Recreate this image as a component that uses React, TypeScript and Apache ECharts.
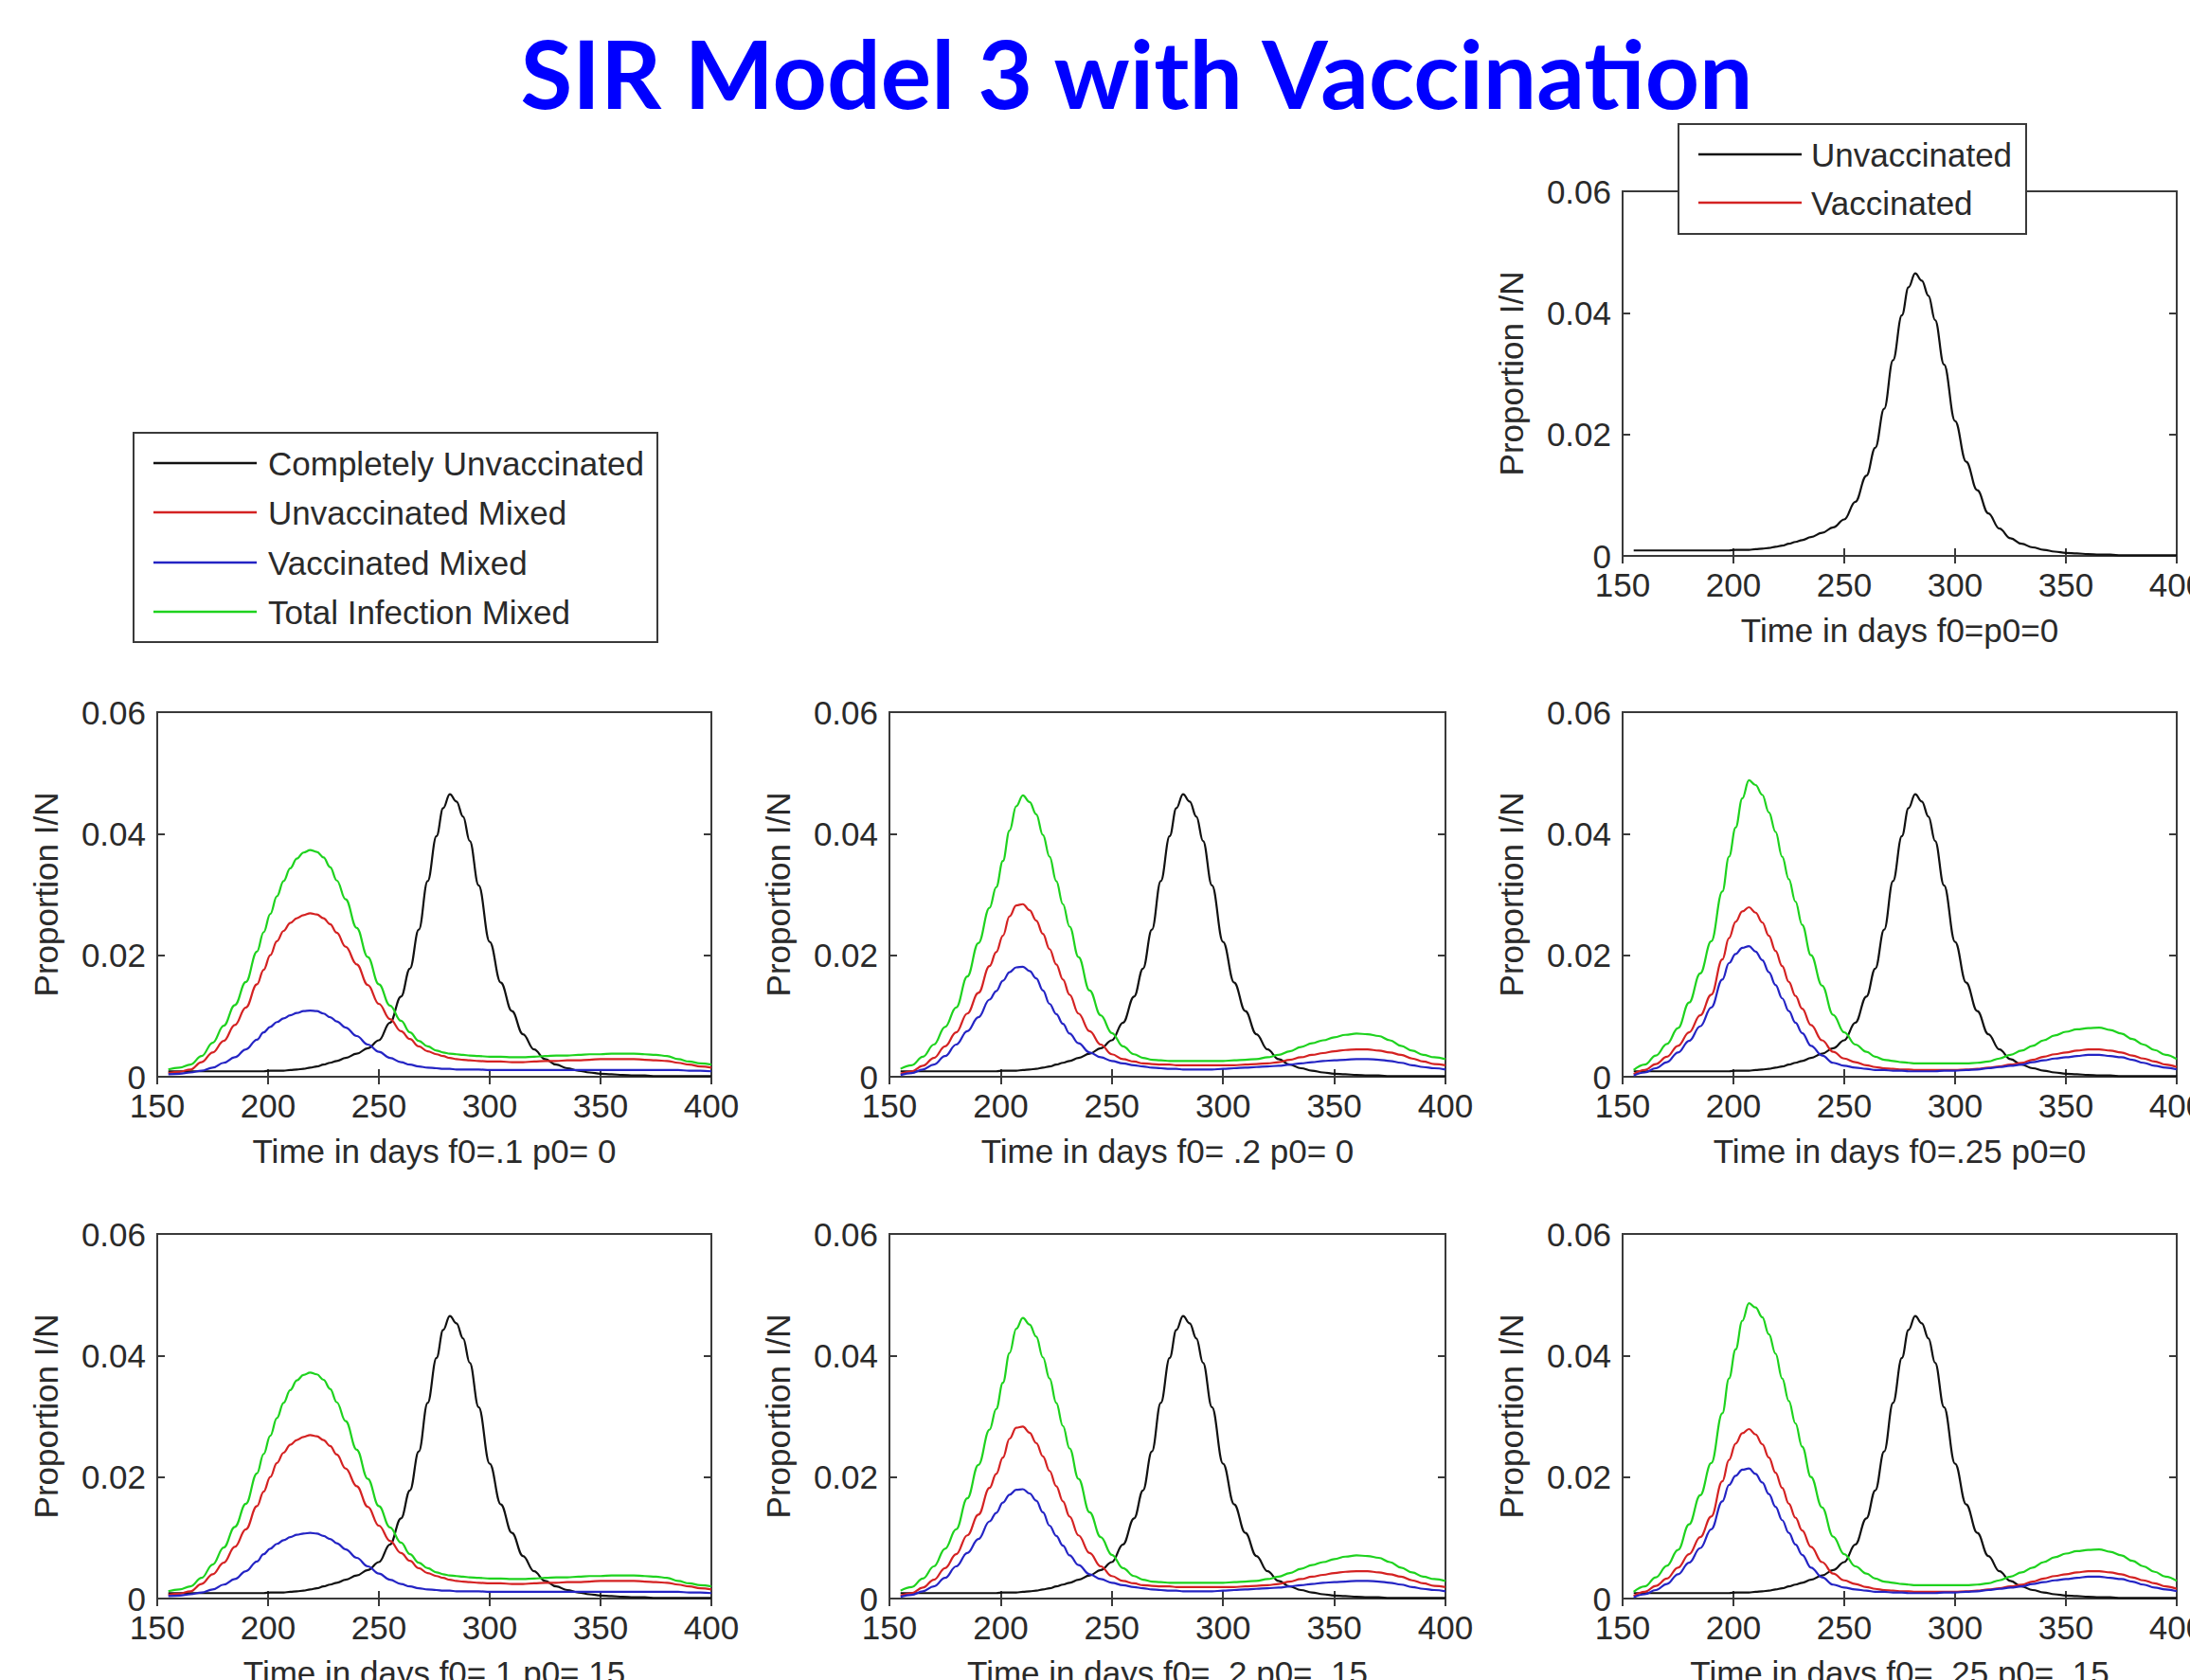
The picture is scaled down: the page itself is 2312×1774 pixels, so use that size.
import React, { useEffect, useRef } from "react";
import * as echarts from "echarts";

// ---------- data ----------
const days = [
  155, 160, 165, 170, 175, 180, 185, 190, 195,
  198, 201, 204, 207, 210, 213, 216, 219, 222, 225, 228, 231,
  235, 240, 245, 250, 255, 260,
  264, 268, 272, 276,
  279, 282, 285, 288, 291,
  295, 300, 305, 310, 315, 320, 325, 330, 335, 340, 345, 350, 355, 360, 365, 370, 375, 380, 385, 390, 395, 400,
];

const xTicks = [150, 200, 250, 300, 350, 400];
const yTicks = [0, 0.02, 0.04, 0.06];

// completely unvaccinated population (same in every panel)
const completelyUnvaccinated = [
  0.0009, 0.0009, 0.0009, 0.0009, 0.0009, 0.0009, 0.0009, 0.0009, 0.0009,
  0.0009, 0.001, 0.001, 0.001, 0.0011, 0.0012, 0.0013, 0.0015, 0.0017, 0.002, 0.0023, 0.0026,
  0.0031, 0.0038, 0.0047, 0.006, 0.0089, 0.0132,
  0.0178, 0.0242, 0.0322, 0.0396,
  0.0442, 0.0465, 0.0453, 0.0428, 0.0388,
  0.0315, 0.0222, 0.0155, 0.0108, 0.007, 0.0045, 0.0029, 0.002, 0.0014, 0.001, 0.0007, 0.0005, 0.0004, 0.0003, 0.0002, 0.0002, 0.0001, 0.0001, 0.0001, 0.0001, 0.0001, 0.0001,
];

// f0 = .1, p0 = 0
const unvaccMixed_f10_p0 = [
  0.0006, 0.0008, 0.0012, 0.0024, 0.004, 0.0059, 0.0085, 0.0114, 0.0152,
  0.0176, 0.02, 0.0223, 0.024, 0.0253, 0.0261, 0.0266, 0.0269, 0.0267, 0.0261, 0.0251, 0.0237,
  0.0214, 0.0185, 0.0151, 0.012, 0.0095, 0.0075,
  0.0062, 0.005, 0.0042, 0.0037,
  0.0034, 0.0031, 0.0029, 0.0028, 0.0027,
  0.0026, 0.0025, 0.0025, 0.0024, 0.0024, 0.0025, 0.0026, 0.0026, 0.0027, 0.0027, 0.0028, 0.0029, 0.0029, 0.0029, 0.0029, 0.0028, 0.0027, 0.0026, 0.0023, 0.002, 0.0017, 0.0015,
];
const vaccMixed_f10_p0 = [
  0.0004, 0.0005, 0.0007, 0.001, 0.0015, 0.0023, 0.0032, 0.0045, 0.0061,
  0.0073, 0.0082, 0.009, 0.0096, 0.0101, 0.0105, 0.0108, 0.0109, 0.0108, 0.0104, 0.0098, 0.0091,
  0.0081, 0.0067, 0.0053, 0.0041, 0.0031, 0.0024,
  0.002, 0.0017, 0.0015, 0.0014,
  0.0013, 0.0013, 0.0012, 0.0012, 0.0012,
  0.0012, 0.0011, 0.0011, 0.0011, 0.0011, 0.0011, 0.0011, 0.0011, 0.0011, 0.0011, 0.0011, 0.0011, 0.0011, 0.0011, 0.0011, 0.0011, 0.0011, 0.0011, 0.0011, 0.001, 0.001, 0.0009,
];
const totalMixed_f10_p0 = [
  0.0012, 0.0015, 0.002, 0.0034, 0.0056, 0.0084, 0.0118, 0.0156, 0.0206,
  0.0238, 0.0268, 0.0297, 0.0322, 0.0343, 0.0359, 0.0369, 0.0373, 0.037, 0.0361, 0.0345, 0.0323,
  0.0292, 0.0245, 0.0197, 0.0152, 0.0117, 0.0092,
  0.0073, 0.0059, 0.005, 0.0043,
  0.004, 0.0038, 0.0037, 0.0036, 0.0035,
  0.0034, 0.0033, 0.0033, 0.0032, 0.0032, 0.0033, 0.0034, 0.0035, 0.0035, 0.0036, 0.0037, 0.0037, 0.0038, 0.0038, 0.0038, 0.0037, 0.0036, 0.0034, 0.0029, 0.0025, 0.0022, 0.002,
];

// f0 = .2, p0 = 0
const unvaccMixed_f20_p0 = [
  0.0005, 0.0009, 0.0018, 0.0031, 0.005, 0.0073, 0.0104, 0.0138, 0.0182,
  0.0205, 0.0232, 0.0264, 0.0282, 0.0284, 0.0274, 0.0257, 0.0235, 0.021, 0.0185, 0.016, 0.0135,
  0.0104, 0.0075, 0.0053, 0.0037, 0.0029, 0.0025,
  0.0022, 0.0021, 0.002, 0.002,
  0.0019, 0.0019, 0.0019, 0.0019, 0.0019,
  0.0019, 0.0019, 0.0019, 0.002, 0.0021, 0.0022, 0.0024, 0.0028, 0.0032, 0.0036, 0.0039, 0.0042, 0.0044, 0.0045, 0.0045, 0.0043, 0.004, 0.0036, 0.003, 0.0025, 0.0021, 0.0019,
];
const vaccMixed_f20_p0 = [
  0.0003, 0.0006, 0.0012, 0.002, 0.0034, 0.0053, 0.0075, 0.0098, 0.0127,
  0.0141, 0.0158, 0.0172, 0.018, 0.0181, 0.0174, 0.0162, 0.0142, 0.012, 0.0103, 0.0087, 0.0071,
  0.0055, 0.004, 0.0032, 0.0026, 0.0022, 0.0019,
  0.0017, 0.0015, 0.0014, 0.0013,
  0.0013, 0.0012, 0.0012, 0.0012, 0.0012,
  0.0012, 0.0013, 0.0014, 0.0015, 0.0016, 0.0017, 0.0018, 0.002, 0.0022, 0.0024, 0.0026, 0.0027, 0.0028, 0.0029, 0.0029, 0.0028, 0.0026, 0.0023, 0.0019, 0.0016, 0.0014, 0.0012,
];
const totalMixed_f20_p0 = [
  0.0013, 0.0019, 0.0033, 0.0053, 0.0082, 0.0114, 0.0165, 0.022, 0.0278,
  0.0312, 0.0355, 0.0405, 0.0445, 0.0463, 0.0452, 0.0432, 0.0398, 0.0362, 0.0322, 0.0284, 0.0247,
  0.0197, 0.0142, 0.0101, 0.0072, 0.005, 0.0037,
  0.0031, 0.0028, 0.0027, 0.0026,
  0.0026, 0.0026, 0.0026, 0.0026, 0.0026,
  0.0026, 0.0026, 0.0027, 0.0028, 0.0029, 0.0032, 0.0036, 0.0042, 0.0049, 0.0055, 0.006, 0.0065, 0.0069, 0.0071, 0.007, 0.0067, 0.006, 0.0051, 0.0043, 0.0036, 0.0032, 0.0029,
];

// f0 = .25, p0 = 0
const unvaccMixed_f25_p0 = [
  0.0004, 0.0011, 0.0021, 0.0033, 0.0051, 0.0073, 0.0101, 0.0135, 0.0193,
  0.0228, 0.0255, 0.0272, 0.0279, 0.027, 0.0254, 0.0232, 0.0207, 0.0182, 0.0156, 0.0133, 0.0112,
  0.0085, 0.006, 0.0041, 0.003, 0.0024, 0.0019,
  0.0016, 0.0014, 0.0013, 0.0012,
  0.0012, 0.0011, 0.0011, 0.0011, 0.0011,
  0.0011, 0.0011, 0.0012, 0.0013, 0.0015, 0.0017, 0.002, 0.0023, 0.0028, 0.0033, 0.0037, 0.004, 0.0043, 0.0045, 0.0045, 0.0043, 0.004, 0.0035, 0.003, 0.0025, 0.002, 0.0016,
];
const vaccMixed_f25_p0 = [
  0.0002, 0.0007, 0.0014, 0.0024, 0.004, 0.0059, 0.0083, 0.0114, 0.016,
  0.0187, 0.0202, 0.0212, 0.0215, 0.0206, 0.0192, 0.0172, 0.0151, 0.0129, 0.0108, 0.0089, 0.0072,
  0.0051, 0.0035, 0.0023, 0.0018, 0.0015, 0.0013,
  0.0011, 0.0011, 0.001, 0.001,
  0.0009, 0.0009, 0.0009, 0.0009, 0.0009,
  0.001, 0.001, 0.0011, 0.0012, 0.0014, 0.0016, 0.0018, 0.002, 0.0024, 0.0027, 0.003, 0.0032, 0.0034, 0.0036, 0.0036, 0.0034, 0.0032, 0.0028, 0.0023, 0.0018, 0.0015, 0.0012,
];
const totalMixed_f25_p0 = [
  0.0011, 0.002, 0.0035, 0.0054, 0.008, 0.0122, 0.017, 0.0223, 0.0305,
  0.0362, 0.041, 0.0458, 0.0488, 0.048, 0.0464, 0.0435, 0.0403, 0.0362, 0.0325, 0.0288, 0.025,
  0.02, 0.015, 0.0102, 0.0073, 0.0053, 0.0041,
  0.0033, 0.0028, 0.0026, 0.0024,
  0.0023, 0.0022, 0.0022, 0.0022, 0.0022,
  0.0022, 0.0022, 0.0022, 0.0023, 0.0025, 0.003, 0.0036, 0.0043, 0.0051, 0.006, 0.0068, 0.0074, 0.0078, 0.008, 0.0081, 0.0077, 0.0071, 0.0062, 0.0053, 0.0044, 0.0036, 0.0029,
];

// f0 = .1, p0 = .15
const unvaccMixed_f10_p15 = [
  0.0006, 0.0008, 0.0012, 0.0024, 0.004, 0.0059, 0.0085, 0.0114, 0.0152,
  0.0176, 0.02, 0.0223, 0.024, 0.0253, 0.0261, 0.0266, 0.0269, 0.0267, 0.0261, 0.0251, 0.0237,
  0.0214, 0.0185, 0.0151, 0.012, 0.0095, 0.0075,
  0.0062, 0.005, 0.0042, 0.0037,
  0.0034, 0.0031, 0.0029, 0.0028, 0.0027,
  0.0026, 0.0025, 0.0025, 0.0024, 0.0024, 0.0025, 0.0026, 0.0026, 0.0027, 0.0027, 0.0028, 0.0029, 0.0029, 0.0029, 0.0029, 0.0028, 0.0027, 0.0026, 0.0023, 0.002, 0.0017, 0.0015,
];
const vaccMixed_f10_p15 = [
  0.0004, 0.0005, 0.0007, 0.001, 0.0015, 0.0023, 0.0032, 0.0045, 0.0061,
  0.0073, 0.0082, 0.009, 0.0096, 0.0101, 0.0105, 0.0107, 0.0108, 0.0107, 0.0103, 0.0098, 0.0091,
  0.0081, 0.0067, 0.0053, 0.0041, 0.0031, 0.0024,
  0.002, 0.0017, 0.0015, 0.0014,
  0.0013, 0.0013, 0.0012, 0.0012, 0.0012,
  0.0012, 0.0011, 0.0011, 0.0011, 0.0011, 0.0011, 0.0011, 0.0011, 0.0011, 0.0011, 0.0011, 0.0011, 0.0011, 0.0011, 0.0011, 0.0011, 0.0011, 0.0011, 0.0011, 0.001, 0.001, 0.0009,
];
const totalMixed_f10_p15 = [
  0.0012, 0.0015, 0.002, 0.0034, 0.0056, 0.0084, 0.0118, 0.0156, 0.0206,
  0.0238, 0.0268, 0.0297, 0.0322, 0.0343, 0.0359, 0.0368, 0.0372, 0.0369, 0.036, 0.0345, 0.0323,
  0.0292, 0.0245, 0.0197, 0.0152, 0.0117, 0.0092,
  0.0073, 0.0059, 0.005, 0.0043,
  0.004, 0.0038, 0.0037, 0.0036, 0.0035,
  0.0034, 0.0033, 0.0033, 0.0032, 0.0032, 0.0033, 0.0034, 0.0035, 0.0035, 0.0036, 0.0037, 0.0037, 0.0038, 0.0038, 0.0038, 0.0037, 0.0036, 0.0034, 0.0029, 0.0025, 0.0022, 0.002,
];

// f0 = .2, p0 = .15
const unvaccMixed_f20_p15 = [
  0.0005, 0.0009, 0.0018, 0.0031, 0.005, 0.0073, 0.0104, 0.0138, 0.0182,
  0.0205, 0.0232, 0.0263, 0.0281, 0.0283, 0.0273, 0.0256, 0.0234, 0.021, 0.0185, 0.016, 0.0135,
  0.0104, 0.0075, 0.0053, 0.0037, 0.0029, 0.0025,
  0.0022, 0.0021, 0.002, 0.002,
  0.0019, 0.0019, 0.0019, 0.0019, 0.0019,
  0.0019, 0.0019, 0.0019, 0.002, 0.0021, 0.0022, 0.0024, 0.0028, 0.0032, 0.0036, 0.0039, 0.0042, 0.0044, 0.0045, 0.0045, 0.0043, 0.004, 0.0036, 0.003, 0.0025, 0.0021, 0.0019,
];
const vaccMixed_f20_p15 = [
  0.0003, 0.0006, 0.0012, 0.002, 0.0034, 0.0053, 0.0075, 0.0098, 0.0127,
  0.0141, 0.0158, 0.0171, 0.0179, 0.018, 0.0173, 0.0161, 0.0142, 0.012, 0.0103, 0.0087, 0.0071,
  0.0055, 0.004, 0.0032, 0.0026, 0.0022, 0.0019,
  0.0017, 0.0015, 0.0014, 0.0013,
  0.0013, 0.0012, 0.0012, 0.0012, 0.0012,
  0.0012, 0.0013, 0.0014, 0.0015, 0.0016, 0.0017, 0.0018, 0.002, 0.0022, 0.0024, 0.0026, 0.0027, 0.0028, 0.0029, 0.0029, 0.0028, 0.0026, 0.0023, 0.0019, 0.0016, 0.0014, 0.0012,
];
const totalMixed_f20_p15 = [
  0.0013, 0.0019, 0.0033, 0.0053, 0.0082, 0.0114, 0.0165, 0.022, 0.0278,
  0.0312, 0.0355, 0.0404, 0.0444, 0.0462, 0.0451, 0.0431, 0.0397, 0.0362, 0.0322, 0.0284, 0.0247,
  0.0197, 0.0142, 0.0101, 0.0072, 0.005, 0.0037,
  0.0031, 0.0028, 0.0027, 0.0026,
  0.0026, 0.0026, 0.0026, 0.0026, 0.0026,
  0.0026, 0.0026, 0.0027, 0.0028, 0.0029, 0.0032, 0.0036, 0.0042, 0.0049, 0.0055, 0.006, 0.0065, 0.0069, 0.0071, 0.007, 0.0067, 0.006, 0.0051, 0.0043, 0.0036, 0.0032, 0.0029,
];

// f0 = .25, p0 = .15
const unvaccMixed_f25_p15 = [
  0.0004, 0.0011, 0.0021, 0.0033, 0.0051, 0.0073, 0.0101, 0.0135, 0.0193,
  0.0228, 0.0255, 0.0272, 0.0279, 0.027, 0.0254, 0.0232, 0.0207, 0.0182, 0.0156, 0.0133, 0.0112,
  0.0085, 0.006, 0.0041, 0.003, 0.0024, 0.0019,
  0.0016, 0.0014, 0.0013, 0.0012,
  0.0012, 0.0011, 0.0011, 0.0011, 0.0011,
  0.0011, 0.0011, 0.0012, 0.0013, 0.0015, 0.0017, 0.002, 0.0023, 0.0028, 0.0033, 0.0037, 0.004, 0.0043, 0.0045, 0.0045, 0.0043, 0.004, 0.0035, 0.003, 0.0025, 0.002, 0.0016,
];
const vaccMixed_f25_p15 = [
  0.0002, 0.0007, 0.0014, 0.0024, 0.004, 0.0059, 0.0083, 0.0114, 0.016,
  0.0187, 0.0202, 0.0212, 0.0214, 0.0205, 0.0191, 0.0172, 0.0151, 0.0129, 0.0108, 0.0089, 0.0072,
  0.0051, 0.0035, 0.0023, 0.0018, 0.0015, 0.0013,
  0.0011, 0.0011, 0.001, 0.001,
  0.0009, 0.0009, 0.0009, 0.0009, 0.0009,
  0.001, 0.001, 0.0011, 0.0012, 0.0014, 0.0016, 0.0018, 0.002, 0.0024, 0.0027, 0.003, 0.0032, 0.0034, 0.0036, 0.0036, 0.0034, 0.0032, 0.0028, 0.0023, 0.0018, 0.0015, 0.0012,
];
const totalMixed_f25_p15 = [
  0.0011, 0.002, 0.0035, 0.0054, 0.008, 0.0122, 0.017, 0.0223, 0.0305,
  0.0362, 0.041, 0.0457, 0.0486, 0.0479, 0.0463, 0.0435, 0.0403, 0.0362, 0.0325, 0.0288, 0.025,
  0.02, 0.015, 0.0102, 0.0073, 0.0053, 0.0041,
  0.0033, 0.0028, 0.0026, 0.0024,
  0.0023, 0.0022, 0.0022, 0.0022, 0.0022,
  0.0022, 0.0022, 0.0022, 0.0023, 0.0025, 0.003, 0.0036, 0.0043, 0.0051, 0.006, 0.0068, 0.0074, 0.0078, 0.008, 0.0081, 0.0077, 0.0071, 0.0062, 0.0053, 0.0044, 0.0036, 0.0029,
];

const xAxisLabels = [
  "Time in days f0=p0=0",
  "Time in days f0=.1 p0= 0",
  "Time in days f0= .2 p0= 0",
  "Time in days f0=.25 p0=0",
  "Time in days f0=.1 p0=.15",
  "Time in days f0= .2 p0= .15",
  "Time in days f0= .25 p0= .15",
];
const yAxisLabel = "Proportion I/N";
const titleText = "SIR Model 3 with Vaccination";
const legendTopRight = ["Unvaccinated", "Vaccinated"];
const legendMain = ["Completely Unvaccinated", "Unvaccinated Mixed", "Vaccinated Mixed", "Total Infection Mixed"];

// ---------- styles / layout ----------
const BLACK = "#111111";
const RED = "#d42222";
const BLUE = "#2424c4";
const GREEN = "#1ed21e";
const FRAME = "#3a3a3a";
const TXT = "#2a2a2a";
const FONT = "'Liberation Sans', Arial, sans-serif";
const FS = 35;

const PH = 385;
const panelPos = [
  { left: 1713, top: 202, width: 585 },
  { left: 166, top: 752, width: 585 },
  { left: 939, top: 752, width: 587 },
  { left: 1713, top: 752, width: 585 },
  { left: 166, top: 1303, width: 585 },
  { left: 939, top: 1303, width: 587 },
  { left: 1713, top: 1303, width: 585 },
];

const panelSeries = [
  [{ name: "Unvaccinated", data: completelyUnvaccinated, color: BLACK }],
  [
    { name: "Completely Unvaccinated", data: completelyUnvaccinated, color: BLACK },
    { name: "Unvaccinated Mixed", data: unvaccMixed_f10_p0, color: RED },
    { name: "Vaccinated Mixed", data: vaccMixed_f10_p0, color: BLUE },
    { name: "Total Infection Mixed", data: totalMixed_f10_p0, color: GREEN },
  ],
  [
    { name: "Completely Unvaccinated", data: completelyUnvaccinated, color: BLACK },
    { name: "Unvaccinated Mixed", data: unvaccMixed_f20_p0, color: RED },
    { name: "Vaccinated Mixed", data: vaccMixed_f20_p0, color: BLUE },
    { name: "Total Infection Mixed", data: totalMixed_f20_p0, color: GREEN },
  ],
  [
    { name: "Completely Unvaccinated", data: completelyUnvaccinated, color: BLACK },
    { name: "Unvaccinated Mixed", data: unvaccMixed_f25_p0, color: RED },
    { name: "Vaccinated Mixed", data: vaccMixed_f25_p0, color: BLUE },
    { name: "Total Infection Mixed", data: totalMixed_f25_p0, color: GREEN },
  ],
  [
    { name: "Completely Unvaccinated", data: completelyUnvaccinated, color: BLACK },
    { name: "Unvaccinated Mixed", data: unvaccMixed_f10_p15, color: RED },
    { name: "Vaccinated Mixed", data: vaccMixed_f10_p15, color: BLUE },
    { name: "Total Infection Mixed", data: totalMixed_f10_p15, color: GREEN },
  ],
  [
    { name: "Completely Unvaccinated", data: completelyUnvaccinated, color: BLACK },
    { name: "Unvaccinated Mixed", data: unvaccMixed_f20_p15, color: RED },
    { name: "Vaccinated Mixed", data: vaccMixed_f20_p15, color: BLUE },
    { name: "Total Infection Mixed", data: totalMixed_f20_p15, color: GREEN },
  ],
  [
    { name: "Completely Unvaccinated", data: completelyUnvaccinated, color: BLACK },
    { name: "Unvaccinated Mixed", data: unvaccMixed_f25_p15, color: RED },
    { name: "Vaccinated Mixed", data: vaccMixed_f25_p15, color: BLUE },
    { name: "Total Infection Mixed", data: totalMixed_f25_p15, color: GREEN },
  ],
];

function buildOption() {
  const grid: any[] = [];
  const xAxis: any[] = [];
  const yAxis: any[] = [];
  const series: any[] = [];
  const tick = { show: true, inside: true, length: 8, lineStyle: { color: FRAME, width: 2 } };
  const labelStyle = { color: TXT, fontSize: FS, fontFamily: FONT };

  panelPos.forEach((p, i) => {
    grid.push({
      left: p.left, top: p.top, width: p.width, height: PH,
      containLabel: false, outerBoundsMode: "none",
      show: true, borderColor: FRAME, borderWidth: 2, backgroundColor: "transparent",
    });
    const xBase = {
      type: "value", gridIndex: i,
      min: xTicks[0], max: xTicks[xTicks.length - 1], interval: xTicks[1] - xTicks[0],
      splitLine: { show: false }, axisLine: { show: false }, axisTick: tick,
    };
    xAxis.push({
      ...xBase, position: "bottom",
      axisLabel: { ...labelStyle, margin: 13, showMinLabel: true, showMaxLabel: true },
      name: xAxisLabels[i], nameLocation: "middle", nameGap: 61,
      nameTextStyle: { ...labelStyle },
    });
    xAxis.push({ ...xBase, position: "top", axisLabel: { show: false } });
    const yBase = {
      type: "value", gridIndex: i,
      min: yTicks[0], max: yTicks[yTicks.length - 1], interval: yTicks[1] - yTicks[0],
      splitLine: { show: false }, axisLine: { show: false }, axisTick: tick,
    };
    yAxis.push({
      ...yBase, position: "left",
      axisLabel: {
        ...labelStyle, margin: 12, showMinLabel: true, showMaxLabel: true,
        formatter: (v: number) => (v === 0 ? "0" : v.toFixed(2)),
      },
      name: yAxisLabel, nameLocation: "middle", nameGap: 100, nameRotate: 90,
      nameTextStyle: { ...labelStyle },
    });
    yAxis.push({ ...yBase, position: "right", axisLabel: { show: false } });

    panelSeries[i].forEach((s) => {
      series.push({
        type: "line", name: s.name,
        xAxisIndex: 2 * i, yAxisIndex: 2 * i,
        data: days.map((d, k) => [d, s.data[k]]),
        showSymbol: false, symbol: "none", smooth: 0.4, smoothMonotone: "x",
        lineStyle: { color: s.color, width: 2.2 },
        itemStyle: { color: s.color },
        z: 3,
      });
    });
  });

  const legendText = (x: number, y: number, text: string) => ({
    type: "text", x, y, z: 101,
    style: { text, fill: TXT, fontSize: FS, fontFamily: FONT, align: "left", verticalAlign: "middle" },
  });
  const legendLine = (x1: number, x2: number, y: number, color: string) => ({
    type: "line", z: 101,
    shape: { x1, y1: y, x2, y2: y },
    style: { stroke: color, lineWidth: 2.5 },
  });

  const mainColors = [BLACK, RED, BLUE, GREEN];
  const mainRows = [489, 541, 594, 646];
  const trColors = [BLACK, RED];
  const trRows = [163, 214];

  const graphic: any[] = [
    {
      type: "text", x: 1200, y: 76, z: 100,
      style: {
        text: titleText, fill: "#0000ff", fontSize: 100, fontWeight: "bold",
        fontFamily: "Lato, 'Open Sans', sans-serif", align: "center", verticalAlign: "middle",
      },
    },
    {
      type: "rect", z: 100,
      shape: { x: 141, y: 457, width: 553, height: 221 },
      style: { fill: "#ffffff", stroke: FRAME, lineWidth: 2 },
    },
    ...legendMain.flatMap((t, k) => [
      legendLine(162, 271, mainRows[k], mainColors[k]),
      legendText(283, mainRows[k], t),
    ]),
    {
      type: "rect", z: 100,
      shape: { x: 1772, y: 131, width: 367, height: 116 },
      style: { fill: "#ffffff", stroke: FRAME, lineWidth: 2 },
    },
    ...legendTopRight.flatMap((t, k) => [
      legendLine(1793, 1902, trRows[k], trColors[k]),
      legendText(1912, trRows[k], t),
    ]),
  ];

  return {
    animation: false,
    backgroundColor: "#ffffff",
    grid, xAxis, yAxis, series, graphic,
  };
}

export default function App() {
  const ref = useRef<HTMLDivElement>(null);
  useEffect(() => {
    document.body.style.margin = "0";
    if (!ref.current) return;
    const chart = echarts.init(ref.current, undefined, { renderer: "svg" });
    chart.setOption(buildOption() as any);
    return () => chart.dispose();
  }, []);
  return <div ref={ref} style={{ width: 2312, height: 1774 }} />;
}
